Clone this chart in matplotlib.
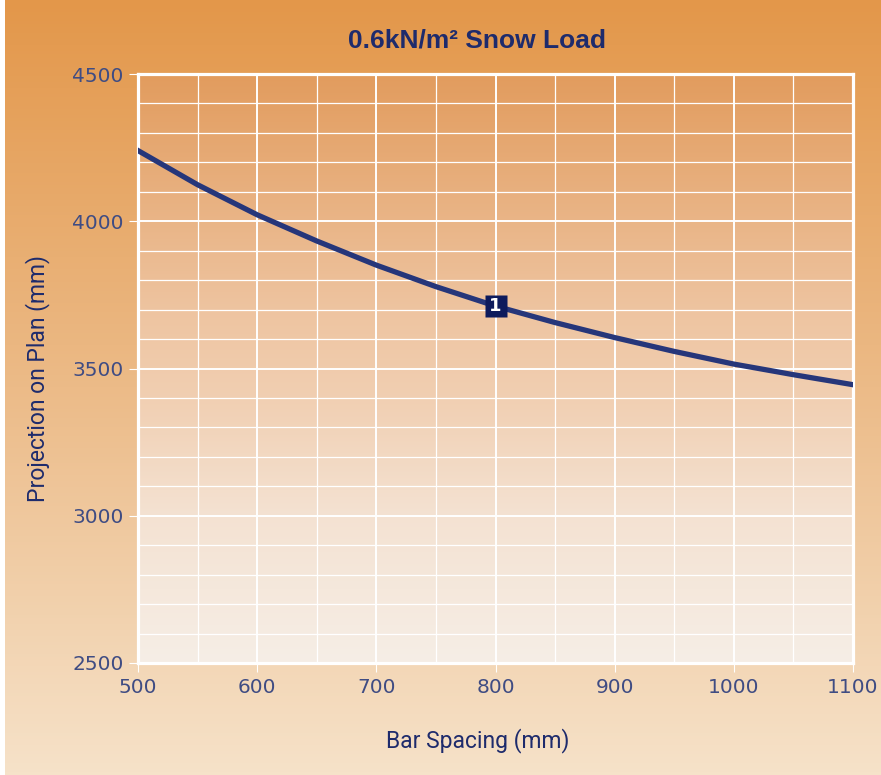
import numpy as np
import matplotlib
matplotlib.use("Agg")
import matplotlib.pyplot as plt
from matplotlib.colors import LinearSegmentedColormap
from matplotlib.ticker import MultipleLocator

# Projection on plan vs bar spacing, 0.6 kN/m2 snow load
bar_spacing = [500, 550, 600, 650, 700, 750, 800, 850, 900, 950, 1000, 1050, 1100]
projection = [4240, 4124, 4022, 3933, 3851, 3778, 3712, 3656, 3605, 3558, 3515, 3479, 3445]
curve_label = "1"
label_at = 800

navy = "#1E2B6C"
tick_col = "#3F4C83"
line_col = "#26367A"

fig = plt.figure(figsize=(8.81, 7.75), dpi=100, facecolor="white")

# orange backdrop fading downwards
bg = fig.add_axes([5 / 881, 0, 1 - 5 / 881, 1], zorder=-2)
bg_cmap = LinearSegmentedColormap.from_list("bg", ["#E3974A", "#ECBB88", "#F6E2C9"])
bg.imshow(np.linspace(0, 1, 256).reshape(-1, 1), cmap=bg_cmap, aspect="auto",
          extent=[0, 1, 0, 1], origin="upper")
bg.set_axis_off()

ax = fig.add_axes([138 / 881, 1 - 663 / 775, (853 - 138) / 881, (663 - 74) / 775])
ax.set_facecolor("none")
plot_cmap = LinearSegmentedColormap.from_list(
    "plot", [(0, "#E29C5E"), (0.4, "#EEC4A0"), (0.55, "#F1CFB2"),
             (0.75, "#F4E2D2"), (1, "#F6EEE6")])
ax.imshow(np.linspace(0, 1, 256).reshape(-1, 1), cmap=plot_cmap, aspect="auto",
          extent=[500, 1100, 2500, 4500], origin="upper", zorder=0)

ax.set_xlim(500, 1100)
ax.set_ylim(2500, 4500)
ax.xaxis.set_major_locator(MultipleLocator(100))
ax.xaxis.set_minor_locator(MultipleLocator(50))
ax.yaxis.set_major_locator(MultipleLocator(500))
ax.yaxis.set_minor_locator(MultipleLocator(100))
ax.grid(which="major", color="white", lw=1.4, zorder=1)
ax.grid(which="minor", color="white", lw=0.9, zorder=1)
ax.tick_params(which="major", length=6.5, width=0.8, color="white",
               labelcolor=tick_col, labelsize=14.5, pad=4)
ax.tick_params(which="minor", length=0)
for s in ax.spines.values():
    s.set_color("white")
    s.set_linewidth(2.3)
    s.set_zorder(3)

ax.plot(bar_spacing, projection, color=line_col, lw=3.8, solid_joinstyle="round",
        zorder=4)

i = bar_spacing.index(label_at)
ax.plot(bar_spacing[i], projection[i], marker="s", ms=16.5, color="#0D1A5C",
        mec="none", zorder=5)
ax.text(bar_spacing[i], projection[i], curve_label, color="white", fontsize=13,
        fontweight="bold", ha="center", va="center", zorder=6)

fig.text(477 / 881, 1 - 40 / 775, "0.6kN/m² Snow Load", fontsize=19,
         fontweight="bold", color=navy, ha="center", va="center",
         family=["Liberation Sans", "DejaVu Sans"])
fig.text(478 / 881, 1 - 741 / 775, "Bar Spacing (mm)", fontsize=16.5, color=navy,
         ha="center", va="center", family=["Liberation Sans Narrow", "Roboto"])
fig.text(38 / 881, 1 - 378 / 775, "Projection on Plan (mm)", fontsize=16.5,
         color=navy, ha="center", va="center", rotation=90,
         family=["Liberation Sans Narrow", "Roboto"])

fig.savefig("out.png", dpi=100)
